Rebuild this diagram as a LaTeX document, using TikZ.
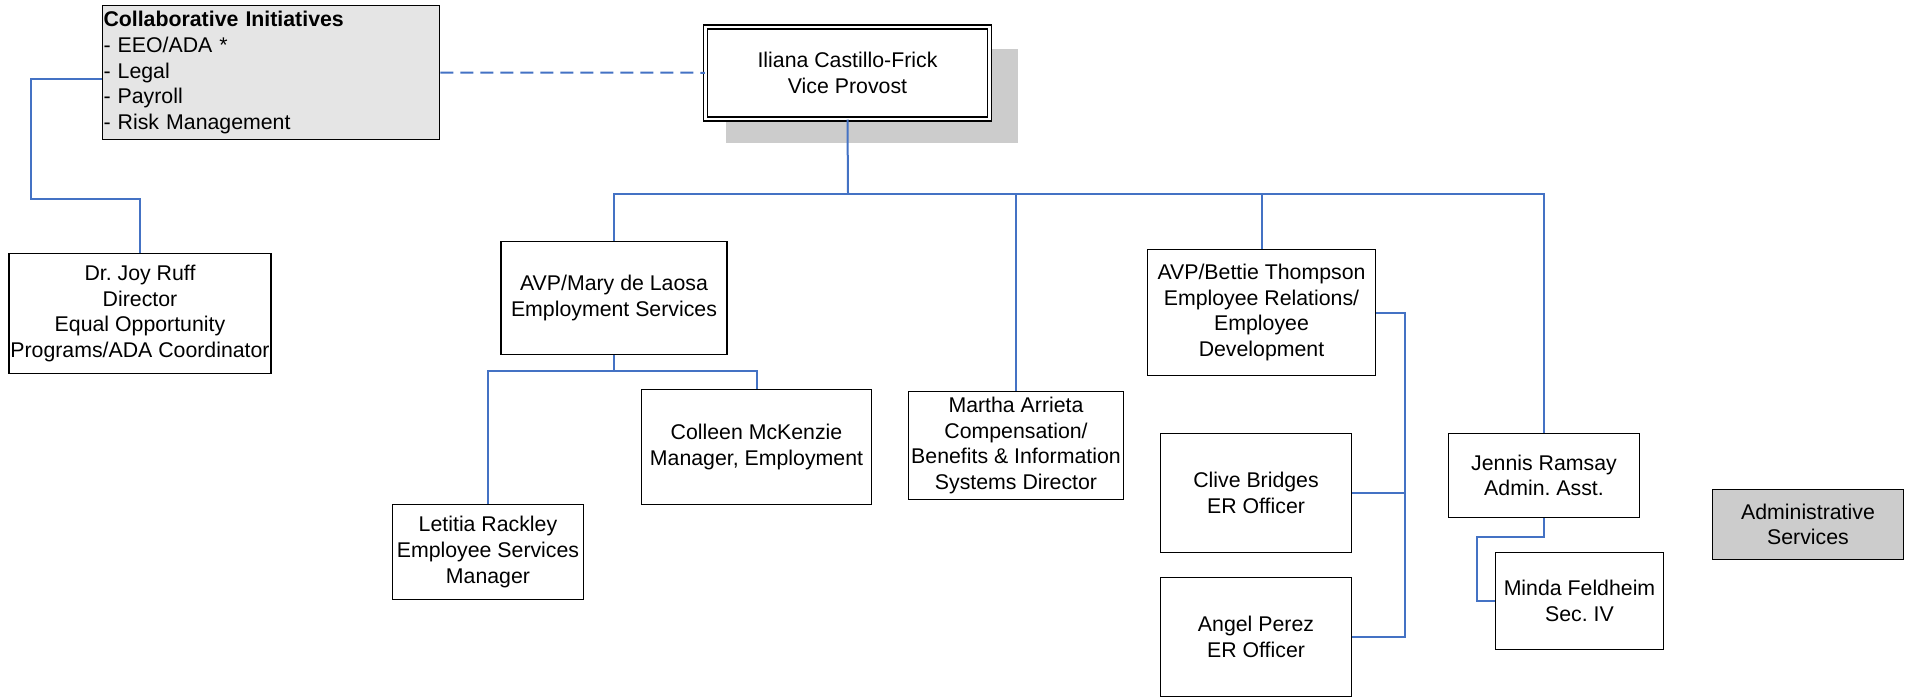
\documentclass[tikz,border=0pt]{standalone}
\usepackage{fontspec}
\setmainfont{Liberation Sans}
\usetikzlibrary{positioning,shadows}
\definecolor{linkblue}{HTML}{4472C4}

\begin{document}
\begin{tikzpicture}[x=1pt,y=-1pt,
    font=\fontsize{21.3}{25.7}\selectfont\frenchspacing,
    post/.style={draw,line width=1.8pt,fill=white,align=center,inner sep=1pt},
    link/.style={draw=linkblue,line width=2pt}]
  \useasboundingbox (0,0) rectangle (1908,697);

  \node[post,double,double distance=2.5pt,line width=1.5pt,minimum width=284,minimum height=92,
        drop shadow={shadow xshift=24pt,shadow yshift=-22.5pt,shadow scale=1.03,fill=black!20,opacity=1}]
    (vp) at (847.5,72.75) {Iliana Castillo-Frick\\Vice Provost};
  \node[post,fill=black!10,align=left,text width=335pt,minimum height=134] (collab) at (271,72.5)
    {\textbf{Collaborative Initiatives}\\- EEO/ADA *\\- Legal\\- Payroll\\- Risk Management};

  \node[post,minimum width=262,minimum height=120] (joy) at (140,313.5)
    {Dr. Joy Ruff\\Director\\Equal Opportunity\\Programs/ADA Coordinator};
  \node[post,minimum width=226,minimum height=113] (mary) at (614,298)
    {AVP/Mary de Laosa\\Employment Services};
  \node[post,minimum width=230,minimum height=115] (colleen) at (756.5,447)
    {Colleen McKenzie\\Manager, Employment};
  \node[post,minimum width=191,minimum height=95] (letitia) at (488,552)
    {Letitia Rackley\\Employee Services\\Manager};
  \node[post,minimum width=215,minimum height=108] (martha) at (1016,445.5)
    {Martha Arrieta\\Compensation/\\Benefits \& Information\\Systems Director};
  \node[post,minimum width=228,minimum height=126] (bettie) at (1261.5,312.5)
    {AVP/Bettie Thompson\\Employee Relations/\\Employee\\Development};
  \node[post,minimum width=191,minimum height=119] (clive) at (1256,493)
    {Clive Bridges\\ER Officer};
  \node[post,minimum width=191,minimum height=119] (angel) at (1256,637)
    {Angel Perez\\ER Officer};
  \node[post,minimum width=191,minimum height=84] (jennis) at (1544,475.5)
    {Jennis Ramsay\\Admin. Asst.};
  \node[post,minimum width=168,minimum height=97] (minda) at (1579.5,601)
    {Minda Feldheim\\Sec. IV};
  \node[post,fill=black!20,minimum width=191,minimum height=70] (admin) at (1808,524.5)
    {Administrative\\Services};

  % vice provost to the AVPs
  \coordinate (bus) at (848,194);
  \draw[link] (vp.south) -- (bus);
  \draw[link] (bus) -| (mary.north);
  \draw[link] (bus) -| (martha.north);
  \draw[link] (bus) -| (bettie.north);
  \draw[link] (bus) -| (jennis.north);
  \draw[link,dash pattern=on 13pt off 7pt] (collab.east) -- (vp.west);

  \coordinate (legal) at ([yshift=-6.5pt]collab.west);
  \draw[link] (legal) -| ++(-71,120) -| (joy.north);

  \draw[link] (mary.south) -- ++(0,16) coordinate (mbus);
  \draw[link] (mbus) -| (letitia.north);
  \draw[link] (mbus) -| (colleen.north);

  \draw[link] (bettie.east) -- ++(29,0) coordinate (ebus) |- (angel.east);
  \draw[link] (ebus) |- (clive.east);

  \draw[link] (jennis.south) |- ++(-67,19) |- (minda.west);
\end{tikzpicture}
\end{document}
